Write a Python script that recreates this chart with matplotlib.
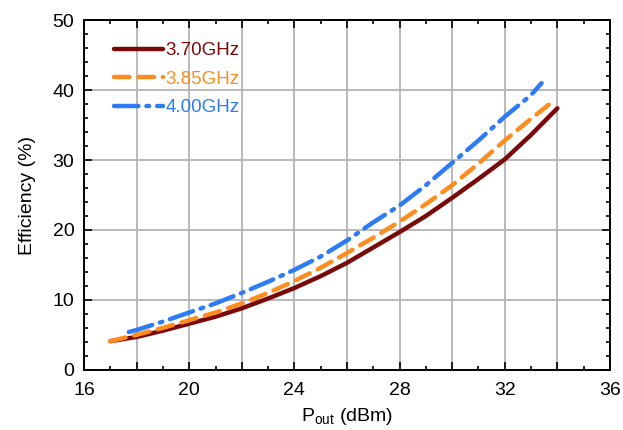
import numpy as np
import matplotlib
matplotlib.use("Agg")
import matplotlib.pyplot as plt
from matplotlib.ticker import MultipleLocator, FuncFormatter

plt.rcParams['font.family'] = ['Liberation Sans', 'DejaVu Sans']

# data
p_370 = [17, 18, 19, 20, 21, 22, 23, 24, 25, 26, 27, 28, 29, 30, 31, 32, 33, 34]
e_370 = [4.1, 4.7, 5.6, 6.6, 7.6, 8.8, 10.2, 11.7, 13.4, 15.3, 17.5, 19.7, 22.0, 24.6, 27.3, 30.1, 33.6, 37.4]

p_385 = [17, 18, 19, 20, 21, 22, 23, 24, 25, 26, 27, 28, 29, 30, 31, 32, 33, 33.9]
e_385 = [4.1, 5.0, 6.0, 7.1, 8.2, 9.5, 11.0, 12.7, 14.6, 16.7, 18.9, 21.2, 23.7, 26.4, 29.5, 32.8, 35.9, 38.6]

p_400 = [17.7, 18, 19, 20, 21, 22, 23, 24, 25, 26, 27, 28, 29, 30, 31, 32, 33, 33.4]
e_400 = [5.4, 5.7, 6.9, 8.2, 9.5, 11.0, 12.6, 14.3, 16.2, 18.5, 21.1, 23.5, 26.4, 29.6, 32.8, 36.2, 39.3, 41.0]

labels = ['3.70GHz', '3.85GHz', '4.00GHz']
colors = ['#7a0a0a', '#ff8c1f', '#2d7cf6']

fig = plt.figure(figsize=(6.23, 4.30), dpi=100)
ax = fig.add_axes([0.135, 0.140, 0.844, 0.813])

ax.plot(p_370, e_370, color=colors[0], lw=3.2, label=labels[0], solid_capstyle='round')
ax.plot(p_385, e_385, color=colors[1], lw=3.2, label=labels[1], dashes=(3.5, 2), dash_capstyle='round')
ax.plot(p_400, e_400, color=colors[2], lw=3.2, label=labels[2], dashes=(5.5, 1.8, 0.6, 1.8), dash_capstyle='round')

ax.set_xlim(16, 36)
ax.set_ylim(0, 50)
ax.xaxis.set_major_locator(MultipleLocator(2))
ax.xaxis.set_minor_locator(MultipleLocator(1))
ax.xaxis.set_major_formatter(FuncFormatter(lambda v, pos: f'{v:.0f}' if round(v) % 4 == 0 else ''))
ax.yaxis.set_major_locator(MultipleLocator(10))
ax.yaxis.set_minor_locator(MultipleLocator(2))

ax.grid(True, which='major', color='#b4b4b4', lw=1.3)
ax.set_axisbelow(True)
ax.tick_params(which='both', direction='in', top=True, right=True, labelsize=14, width=1.2)
ax.tick_params(axis='x', pad=9)
ax.tick_params(axis='y', pad=7)
ax.tick_params(which='major', length=6)
ax.tick_params(which='minor', length=3)
for s in ax.spines.values():
    s.set_linewidth(1.4)

ax.set_xlabel(r'P$_\mathregular{out}$ (dBm)', fontsize=14, labelpad=5)
ax.set_ylabel('Efficiency (%)', fontsize=14, labelpad=12)

ax.legend(loc='upper left', frameon=False, fontsize=13.5, labelcolor='linecolor',
          handlelength=2.6, handletextpad=0.15, labelspacing=0.6,
          bbox_to_anchor=(0.025, 0.985))

fig.savefig('out.png', dpi=100)
